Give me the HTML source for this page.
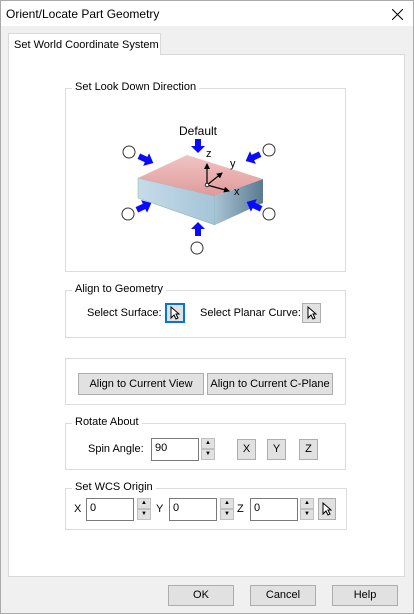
<!DOCTYPE html>
<html><head><meta charset="utf-8"><style>
*{box-sizing:border-box;margin:0;padding:0}
body{width:414px;height:614px;background:#f0f0f0;font-family:"Liberation Sans",Arial,sans-serif;font-size:11px;color:#000;position:relative;overflow:hidden}
.abs{position:absolute;white-space:nowrap}
.grp{position:absolute;border:1px solid #dcdcdc}
.grp>.lg{position:absolute;top:-8px;left:6px;background:#fff;padding:0 3px;white-space:nowrap}
.btn{position:absolute;background:#e1e1e1;border:1px solid #adadad;text-align:center;white-space:nowrap}
.inp{position:absolute;background:#fff;border:1px solid #7a7a7a;padding:3px 0 0 3px}
.spin{position:absolute;width:14px}
.spin div{height:11px;background:#e1e1e1;border:1px solid #c0c0c0;font-size:6px;text-align:center;line-height:9px}
.cur{position:absolute;left:50%;top:50%;margin:-7px 0 0 -5px}
</style></head><body>
<div class="abs" style="left:0;top:0;width:414px;height:26px;background:#fff;border:1px solid #aaa;border-bottom:none">
 <span class="abs" style="left:5px;top:6px;font-size:12px">Orient/Locate Part Geometry</span>
 <svg class="abs" style="left:391px;top:8px" width="11" height="11"><path d="M0,0L11,11M11,0L0,11" stroke="#000" stroke-width="1"/></svg>
</div>
<div class="abs" style="left:8px;top:54px;width:397px;height:523px;background:#fff;border:1px solid #d9d9d9"></div>
<div class="abs" style="left:8px;top:33px;width:153px;height:22px;background:#fff;border:1px solid #d9d9d9;border-bottom:none;padding:5px 0 0 5px">Set World Coordinate System</div>

<div class="grp" style="left:65px;top:88px;width:281px;height:184px"><span class="lg">Set Look Down Direction</span></div>
<svg class="abs" style="left:0;top:0" width="414" height="300">
 <defs>
  <linearGradient id="top" x1="0" y1="0" x2="0" y2="1"><stop offset="0" stop-color="#f0c4c4"/><stop offset="1" stop-color="#e09a9a"/></linearGradient>
  <linearGradient id="fr" x1="0" y1="0" x2="1" y2="0"><stop offset="0" stop-color="#c6dce8"/><stop offset="1" stop-color="#a4c4d8"/></linearGradient>
  <linearGradient id="sd" x1="0" y1="0" x2="1" y2="0"><stop offset="0" stop-color="#a8c4d4"/><stop offset="1" stop-color="#5a7a90"/></linearGradient>
  <marker id="ah" viewBox="0 0 6 6" refX="5" refY="3" markerWidth="5" markerHeight="5" orient="auto"><path d="M0,0L6,3L0,6z" fill="#000"/></marker>
 </defs>
 <polygon points="138,178 215,196 215,225 138,198" fill="url(#fr)" stroke="#8aa" stroke-width="0.5"/>
 <polygon points="215,196 263,179 263,203 215,225" fill="url(#sd)"/>
 <polygon points="138,178 187,155 263,179 215,196" fill="url(#top)"/>
 <text x="198" y="135" text-anchor="middle" font-size="12" font-family="Liberation Sans">Default</text>
 <g stroke="#000" stroke-width="1.2" fill="none">
  <line x1="207" y1="185" x2="207" y2="164" marker-end="url(#ah)"/>
  <line x1="207" y1="185" x2="222" y2="173" marker-end="url(#ah)"/>
  <line x1="207" y1="185" x2="229" y2="191" marker-end="url(#ah)"/>
 </g>
 <circle cx="207" cy="185" r="1.8" fill="#fff" stroke="#000" stroke-width="0.8"/>
 <text x="206" y="157" font-size="11" font-family="Liberation Sans">z</text>
 <text x="230" y="167" font-size="11" font-family="Liberation Sans">y</text>
 <text x="234" y="195" font-size="11" font-family="Liberation Sans">x</text>
 <g fill="#0a0aff">
  <path d="M195,139h6v7h4l-7,7-7-7h4z"/>
  <path d="M195,236h6v-7h4l-7,-7-7,7h4z"/>
  <g transform="translate(147,160) rotate(25)"><path d="M-9,-3h8v-4l8,7-8,7v-4h-8z"/></g>
  <g transform="translate(252,158) rotate(155)"><path d="M-9,-3h8v-4l8,7-8,7v-4h-8z"/></g>
  <g transform="translate(145,206) rotate(-25)"><path d="M-9,-3h8v-4l8,7-8,7v-4h-8z"/></g>
  <g transform="translate(253,205) rotate(-155)"><path d="M-9,-3h8v-4l8,7-8,7v-4h-8z"/></g>
 </g>
 <g fill="#fff" stroke="#333" stroke-width="1">
  <circle cx="129" cy="152" r="6"/>
  <circle cx="269" cy="150" r="6"/>
  <circle cx="128" cy="214" r="6"/>
  <circle cx="269" cy="214" r="6"/>
  <circle cx="197" cy="248" r="6"/>
 </g>
</svg>

<div class="grp" style="left:65px;top:290px;width:281px;height:48px"><span class="lg">Align to Geometry</span></div>
<span class="abs" style="left:87px;top:307px">Select Surface:</span>
<div class="btn" style="left:165px;top:303px;width:20px;height:20px;border:2px solid #0078d7"><svg class="cur" width="10" height="14"><path d="M1,1L1,12L4,9L6,13L8,12L6,8L9,8Z" fill="#fff" stroke="#000"/></svg></div>
<span class="abs" style="left:200px;top:307px">Select Planar Curve:</span>
<div class="btn" style="left:302px;top:303px;width:19px;height:20px"><svg class="cur" width="10" height="14"><path d="M1,1L1,12L4,9L6,13L8,12L6,8L9,8Z" fill="#fff" stroke="#000"/></svg></div>

<div class="grp" style="left:65px;top:358px;width:281px;height:47px"></div>
<div class="btn" style="left:78px;top:373px;width:126px;height:22px;line-height:20px">Align to Current View</div>
<div class="btn" style="left:207px;top:373px;width:126px;height:22px;line-height:20px">Align to Current C-Plane</div>

<div class="grp" style="left:65px;top:423px;width:281px;height:47px"><span class="lg">Rotate About</span></div>
<span class="abs" style="left:88px;top:443px">Spin Angle:</span>
<div class="inp" style="left:151px;top:438px;width:48px;height:23px">90</div>
<div class="spin" style="left:201px;top:438px"><div>▲</div><div>▼</div></div>
<div class="btn" style="left:237px;top:439px;width:19px;height:21px;line-height:19px">X</div>
<div class="btn" style="left:267px;top:439px;width:19px;height:21px;line-height:19px">Y</div>
<div class="btn" style="left:299px;top:439px;width:19px;height:21px;line-height:19px">Z</div>

<div class="grp" style="left:65px;top:488px;width:282px;height:42px"><span class="lg">Set WCS Origin</span></div>
<span class="abs" style="left:74px;top:503px">X</span>
<div class="inp" style="left:86px;top:498px;width:48px;height:23px">0</div>
<div class="spin" style="left:137px;top:498px"><div>▲</div><div>▼</div></div>
<span class="abs" style="left:156px;top:503px">Y</span>
<div class="inp" style="left:169px;top:498px;width:48px;height:23px">0</div>
<div class="spin" style="left:220px;top:498px"><div>▲</div><div>▼</div></div>
<span class="abs" style="left:237px;top:503px">Z</span>
<div class="inp" style="left:250px;top:498px;width:48px;height:23px">0</div>
<div class="spin" style="left:300px;top:498px"><div>▲</div><div>▼</div></div>
<div class="btn" style="left:318px;top:498px;width:18px;height:22px"><svg class="cur" width="10" height="14"><path d="M1,1L1,12L4,9L6,13L8,12L6,8L9,8Z" fill="#fff" stroke="#000"/></svg></div>

<div class="btn" style="left:168px;top:585px;width:66px;height:21px;line-height:19px">OK</div>
<div class="btn" style="left:250px;top:585px;width:66px;height:21px;line-height:19px">Cancel</div>
<div class="btn" style="left:332px;top:585px;width:66px;height:21px;line-height:19px">Help</div>
<div class="abs" style="left:0;top:0;width:414px;height:614px;border:1px solid #aaa;pointer-events:none"></div>
</body></html>
